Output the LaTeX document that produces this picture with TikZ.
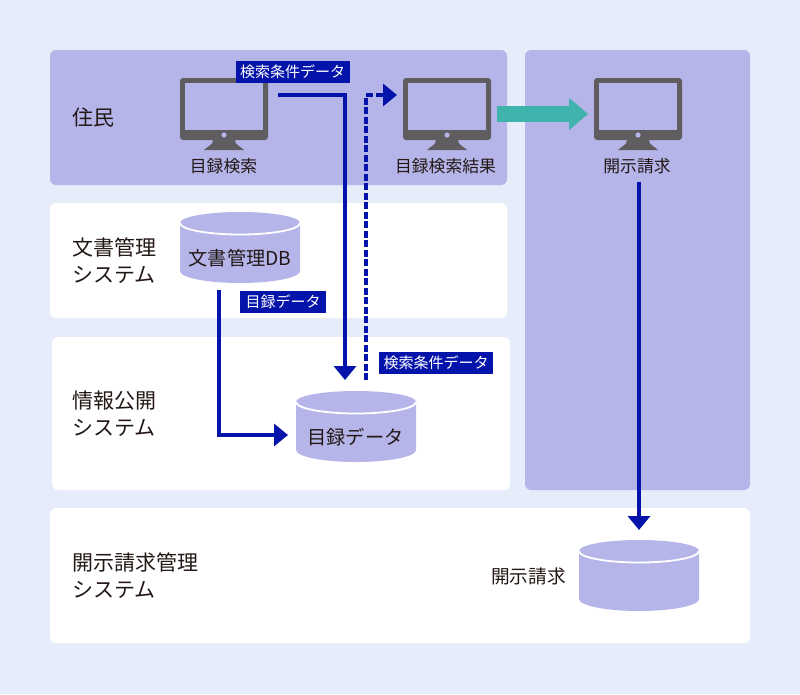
\documentclass[tikz,border=0pt]{standalone}
\usepackage{fontspec}
\setmainfont{Noto Sans CJK JP}
\usetikzlibrary{arrows.meta}
\definecolor{bgc}{HTML}{E6ECF9}
\definecolor{panelc}{HTML}{B5B5E9}
\definecolor{bluec}{HTML}{0414AA}
\definecolor{tealc}{HTML}{3FB3AC}
\definecolor{monc}{HTML}{5F5D5F}
\definecolor{txtc}{HTML}{231815}
\tikzset{
  x=1pt,y=-1pt,
  panel/.style={fill=panelc,rounded corners=6pt},
  whitepanel/.style={fill=white,rounded corners=6pt},
  side/.style={font=\fontsize{21}{27}\selectfont,text=txtc,align=left,anchor=west,inner sep=0pt},
  captext/.style={font=\fontsize{16.8}{20}\selectfont,text=txtc,inner sep=0pt},
  dblabel/.style={font=\fontsize{19.2}{24}\selectfont,text=txtc,inner sep=0pt},
  tag/.style={fill=bluec,text=white,font=\fontsize{15}{18}\selectfont,inner sep=0pt,minimum height=22pt},
  link/.style={draw=bluec,line width=3.6pt,-{Triangle[length=14pt,width=22pt]}},
}
\newcommand{\monitor}[2]{% #1 left x, #2 top y
  \begin{scope}[shift={(#1,#2)}]
    \fill[monc,rounded corners=3pt] (0,0) rectangle (88,62);
    \fill[panelc] (5,5) rectangle (83,52);
    \fill[panelc] (44,57) circle (2.6);
    \fill[monc] (33,62) .. controls (33,67) and (28,68) .. (24,72) -- (64,72) .. controls (60,68) and (55,67) .. (55,62) -- cycle;
  \end{scope}}
\newcommand{\dbcyl}[2]{% #1 centre x, #2 top y
  \begin{scope}[shift={(#1,#2)}]
    \fill[panelc] (-60,11) -- (-60,59) arc[start angle=180,end angle=0,x radius=60,y radius=12] -- (60,11) -- cycle;
    \fill[panelc] (0,11) ellipse [x radius=60,y radius=11];
    \draw[white,line width=1.8pt] (-60,11) arc[start angle=180,end angle=0,x radius=60,y radius=11.5];
  \end{scope}}
\begin{document}
\begin{tikzpicture}
\useasboundingbox (0,0) rectangle (800,694);
\fill[bgc] (0,0) rectangle (800,694);
\path[panel] (50,50) rectangle (507,185);
\path[panel] (525,50) rectangle (750,490);
\path[whitepanel] (50,203) rectangle (507,318);
\path[whitepanel] (52,337) rectangle (510,490);
\path[whitepanel] (50,508) rectangle (750,643);

\monitor{180}{78}
\monitor{403}{78}
\monitor{594}{78}
\dbcyl{240}{212}
\dbcyl{356}{391}
\dbcyl{639}{540}

\node[side] (resident) at (72,117) {住民};
\node[side] (docsys) at (72,261) {文書管理\\システム};
\node[side] (infosys) at (72,414) {情報公開\\システム};
\node[side] (reqsys) at (72,576) {開示請求管理\\システム};

\node[captext] (search) at (223.5,166) {目録検索};
\node[captext] (result) at (445.5,166) {目録検索結果};
\node[captext] (request) at (637,166) {開示請求};
\node[dblabel] (docdb) at (240,258) {文書管理DB};
\node[dblabel] (listdb) at (355.5,437) {目録データ};
\node[font=\fontsize{18.7}{22}\selectfont,text=txtc,inner sep=0pt] (reqdb) at (528.5,576) {開示請求};

\coordinate (a1) at (278,95);
\coordinate (a1k) at (345,95);
\coordinate (a1e) at (345,380);
\coordinate (b1) at (366,380);
\coordinate (b1k) at (366,95);
\coordinate (b1e) at (397,95);
\coordinate (c1) at (219,290);
\coordinate (c1k) at (219,435);
\coordinate (c1e) at (288,435);
\coordinate (d1) at (639,182);
\coordinate (d1e) at (639,530);
\coordinate (t1) at (497,114);
\coordinate (t1e) at (588,114);

\draw[link] (a1) -- (a1k) -- (a1e);
\draw[link,dash pattern=on 7pt off 2.5pt] (b1) -- (b1k) -- (b1e);
\draw[link] (c1) -- (c1k) -- (c1e);
\draw[link] (d1) -- (d1e);
\draw[tealc,line width=16pt,-{Triangle[length=19pt,width=31pt]}] (t1) -- (t1e);

\node[tag,minimum width=114pt] (tag1) at (292.5,72) {検索条件データ};
\node[tag,minimum width=86pt] (tag2) at (283,302) {目録データ};
\node[tag,minimum width=114pt] (tag3) at (436,363) {検索条件データ};
\end{tikzpicture}
\end{document}
